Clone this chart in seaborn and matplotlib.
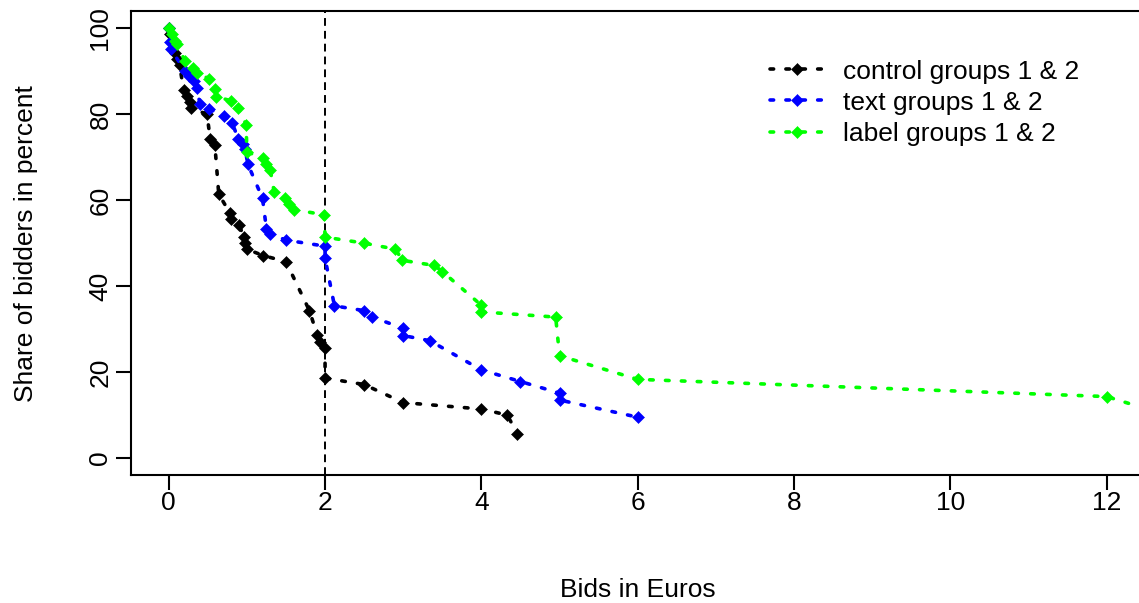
import matplotlib
matplotlib.use("Agg")
import matplotlib.pyplot as plt
import pandas as pd
import seaborn as sns

# Share of bidders still bidding at each bid level (percent)
control_bid = [0, 0.02, 0.08, 0.10, 0.14, 0.19, 0.24, 0.27, 0.29, 0.49, 0.53, 0.59,
               0.64, 0.78, 0.80, 0.90, 0.96, 0.98, 1.00, 1.21, 1.50, 1.80, 1.90,
               1.94, 2.00, 2.00, 2.50, 3.00, 4.00, 4.33, 4.46]
control_share = [100, 98.6, 94.3, 92.9, 91.4, 85.7, 84.3, 82.9, 81.4, 80.0, 74.3, 72.9,
                 61.4, 57.1, 55.7, 54.3, 51.4, 50.0, 48.6, 47.1, 45.7, 34.3, 28.6,
                 27.1, 25.7, 18.6, 17.1, 12.9, 11.4, 10.0, 5.7]

text_bid = [0, 0.02, 0.03, 0.21, 0.26, 0.32, 0.36, 0.40, 0.51, 0.71, 0.81, 0.89, 0.95,
            0.98, 1.01, 1.20, 1.25, 1.30, 1.50, 2.00, 2.00, 2.12, 2.50, 2.60, 3.00,
            3.00, 3.34, 4.00, 4.50, 5.00, 5.00, 6.00]
text_share = [100, 96.7, 95.1, 90.0, 88.9, 87.7, 86.2, 82.3, 81.3, 79.6, 78.0, 74.3, 73.1,
              71.8, 68.5, 60.4, 53.3, 52.2, 50.7, 49.3, 46.5, 35.4, 34.3, 32.8, 30.2,
              28.5, 27.3, 20.5, 17.8, 15.1, 13.5, 9.5]

label_bid = [0, 0.04, 0.08, 0.10, 0.21, 0.31, 0.36, 0.51, 0.59, 0.61, 0.80, 0.89, 0.99,
             1.00, 1.20, 1.25, 1.30, 1.35, 1.49, 1.54, 1.60, 1.99, 2.00, 2.50, 2.90,
             2.99, 3.40, 3.50, 3.99, 4.00, 4.95, 5.00, 6.00, 12.00, 12.60]
label_share = [100, 98.6, 97.0, 96.3, 92.4, 90.8, 89.7, 88.3, 85.8, 84.1, 83.1, 81.5, 77.6,
               71.2, 69.9, 68.5, 67.0, 61.8, 60.5, 59.2, 57.8, 56.6, 51.4, 50.0, 48.6,
               46.0, 44.8, 43.4, 35.7, 34.0, 32.8, 23.8, 18.3, 14.3, 10.9]

groups = ["control groups 1 & 2", "text groups 1 & 2", "label groups 1 & 2"]
colors = ["#000000", "#0000FF", "#00FF00"]
x_ticks = [0, 2, 4, 6, 8, 10, 12]
y_ticks = [0, 20, 40, 60, 80, 100]

frames = []
for name, b, s in zip(groups, [control_bid, text_bid, label_bid],
                      [control_share, text_share, label_share]):
    frames.append(pd.DataFrame({"bid": b, "share": s, "group": name}))
df = pd.concat(frames, ignore_index=True)

sns.set_theme(style="white")
plt.rcParams["font.family"] = ["Liberation Sans", "DejaVu Sans"]
FS = 19

W, H = 1139, 603
fig = plt.figure(figsize=(W / 100, H / 100), dpi=100)
x0, x1 = -0.48, 12.48
px_per_x = 78.17
left_px, top_px, bottom_px = 131.2, 11.1, 475.2
ax = fig.add_axes([left_px / W, (H - bottom_px) / H,
                   (x1 - x0) * px_per_x / W, (bottom_px - top_px) / H])

sns.lineplot(data=df, x="bid", y="share", hue="group", style="group",
             hue_order=groups, style_order=groups,
             palette=dict(zip(groups, colors)),
             dashes={g: (1.0, 3.4) for g in groups},
             markers={g: "D" for g in groups},
             markersize=6.6, linewidth=2.6, sort=False, estimator=None,
             ax=ax)

for line in ax.lines:
    line.set_dash_capstyle("round")
    line.set_markeredgecolor(line.get_color())
    line.set_markeredgewidth(0.4)

ax.axvline(2, color="black", lw=1.4, dashes=(4, 2.6), zorder=1)

ax.set_xlim(x0, x1)
ax.set_ylim(-4, 104)
ax.set_xticks(x_ticks)
ax.set_yticks(y_ticks)
ax.set_xticklabels([str(t) for t in x_ticks])
ax.set_yticklabels([str(t) for t in y_ticks], rotation=90, va="center")

for sp in ax.spines.values():
    sp.set_color("black")
    sp.set_linewidth(1.5)

ax.tick_params(axis="both", which="major", bottom=True, left=True, direction="out",
               length=10.8, width=1.5, color="black", labelsize=FS, labelcolor="black")
ax.tick_params(axis="x", pad=0.7)
ax.tick_params(axis="y", pad=2.7)

ax.set_xlabel("Bids in Euros", fontsize=FS, color="black", labelpad=45)
ax.set_ylabel("Share of bidders in percent", fontsize=FS, color="black", labelpad=36)

handles, labels = ax.get_legend_handles_labels()
leg = ax.legend(handles, labels, loc="upper left",
                bbox_to_anchor=(770 / W, 1 - 59.5 / H), bbox_transform=fig.transFigure,
                frameon=False, fontsize=FS, borderpad=0, borderaxespad=0,
                handlelength=2.07, handletextpad=0.7, labelspacing=0.27, numpoints=1)
for l in leg.get_lines():
    l.set_dash_capstyle("round")
    l.set_markeredgecolor(l.get_color())
    l.set_markeredgewidth(0.4)
for t in leg.get_texts():
    t.set_color("black")

fig.savefig("out.png", dpi=100)
